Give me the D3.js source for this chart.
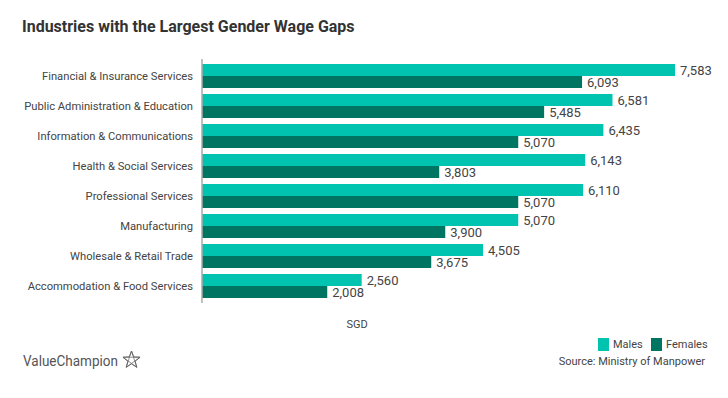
<!DOCTYPE html>
<html><head><meta charset="utf-8">
<script src="https://cdn.jsdelivr.net/npm/d3@7"></script>
<style>body{margin:0;background:#fff}svg{display:block}text{font-family:Roboto,"Noto Sans",sans-serif}</style>
</head><body>
<svg id="c" width="728" height="398"></svg>
<script>
const categories = ["Financial & Insurance Services","Public Administration & Education","Information & Communications","Health & Social Services","Professional Services","Manufacturing","Wholesale & Retail Trade","Accommodation & Food Services"];
const males = [7583,6581,6435,6143,6110,5070,4505,2560];
const females = [6093,5485,5070,3803,5070,3900,3675,2008];
const seriesNames = ["Males","Females"];
const colors = ["#00c3b0","#007561"];

const svg = d3.select("#c");
const x = d3.scaleLinear().domain([0,8000]).range([202,701]);
const y = d3.scaleBand().domain(categories).range([58,304]).paddingInner(0.2).paddingOuter(0.2);
const sub = d3.scaleBand().domain(seriesNames).range([0,y.bandwidth()]);
const fmt = d3.format(",");

svg.append("text").attr("x",22).attr("y",32).attr("font-size",16).attr("font-weight",700).attr("fill","#333")
  .text("Industries with the Largest Gender Wage Gaps");

const data = [];
categories.forEach((c,i)=>{ data.push({c,s:"Males",v:males[i]}); data.push({c,s:"Females",v:females[i]}); });

svg.append("g").selectAll("rect").data(data).join("rect")
  .attr("x",x(0)).attr("y",d=>y(d.c)+sub(d.s)).attr("width",d=>x(d.v)-x(0)).attr("height",sub.bandwidth())
  .attr("fill",d=>colors[seriesNames.indexOf(d.s)]);

const lg = svg.append("g").selectAll("g").data(data).join("g")
  .attr("transform",d=>`translate(${x(d.v)+2},${y(d.c)+sub(d.s)+sub.bandwidth()/2})`);
lg.append("text").attr("x",3).attr("dy","0.36em").attr("font-size",13).attr("fill","#444").text(d=>fmt(d.v))
  .each(function(){ const b=this.getBBox(); d3.select(this.parentNode).insert("rect","text").attr("x",0).attr("y",-6).attr("width",b.width+5).attr("height",12).attr("fill","#fff"); });

// category axis
const ax = svg.append("g").attr("transform",`translate(${x(0)},0)`)
  .call(d3.axisLeft(y).tickSize(0).tickPadding(9));
ax.select(".domain").attr("stroke","#aaa").attr("stroke-width",1.5).attr("d","M0,59V303");
ax.selectAll("text").attr("font-size",11.2).attr("fill","#444").attr("font-family","Roboto, sans-serif");

svg.append("text").attr("x",357).attr("y",328).attr("text-anchor","middle").attr("font-size",11).attr("fill","#444").text("SGD");

// legend
const leg = svg.append("g");
const legX = [598,651];
seriesNames.forEach((s,i)=>{
  leg.append("rect").attr("x",legX[i]).attr("y",338).attr("width",11).attr("height",13).attr("fill",colors[i]);
  leg.append("text").attr("x",legX[i]+15).attr("y",348).attr("font-size",11).attr("fill","#444").text(s);
});
svg.append("text").attr("x",705).attr("y",365).attr("text-anchor","end").attr("font-size",11).attr("fill","#444").text("Source: Ministry of Manpower");

// logo
svg.append("text").attr("x",23).attr("y",366).attr("font-size",14.5).attr("fill","#555")
  .attr("textLength",95).attr("lengthAdjust","spacingAndGlyphs").text("ValueChampion");
const pts = d3.range(5).map(k=>{const a=-Math.PI/2+k*2*Math.PI/5;return [131.5+9*Math.cos(a),360+9*Math.sin(a)];});
const starOuter = d3.range(10).map(k=>{const r=k%2?3.8:9;const a=-Math.PI/2+k*Math.PI/5;return [131.5+r*Math.cos(a),360+r*Math.sin(a)];});
svg.append("path").attr("d","M"+starOuter.join("L")+"Z").attr("fill","none").attr("stroke","#666").attr("stroke-width",1);
svg.append("path").attr("d","M"+[pts[0],pts[2],pts[4],pts[1],pts[3]].join("L")+"Z").attr("fill","none").attr("stroke","#666").attr("stroke-width",0.7);
</script>
</body></html>
